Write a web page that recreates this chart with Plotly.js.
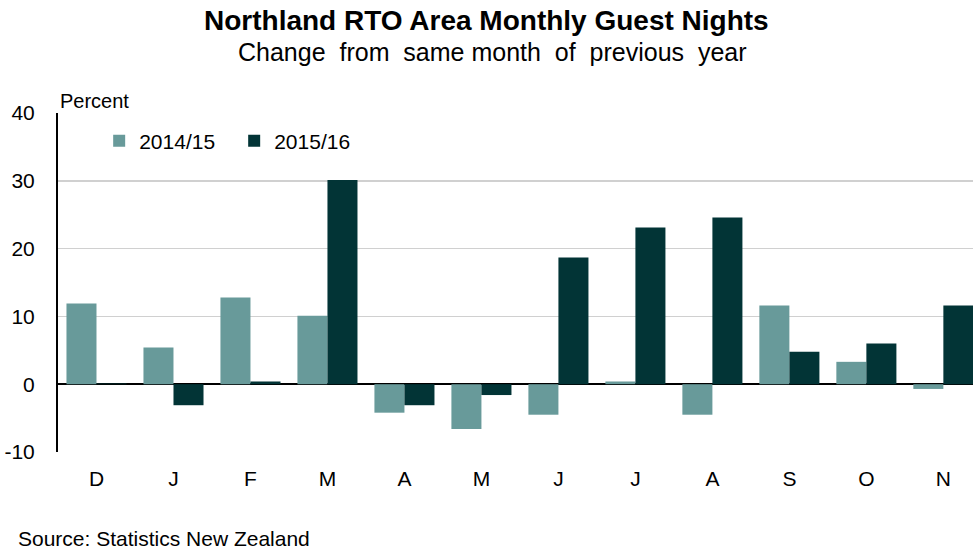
<!DOCTYPE html>
<html>
<head>
<meta charset="utf-8">
<script src="https://cdn.plot.ly/plotly-3.0.1.min.js"></script>
<style>
html,body{margin:0;padding:0;background:#fff;overflow:hidden;}
#chart{width:973px;height:552px;}
</style>
</head>
<body>
<div id="chart"></div>
<script>
const months = ["D","J","F","M","A","M ","J ","J  ","A ","S","O","N"];
const monthLabels = ["D","J","F","M","A","M","J","J","A","S","O","N"];
const series2014 = [11.9, 5.4, 12.8, 10.1, -4.2, -6.6, -4.5, 0.4, -4.5, 11.6, 3.3, -0.7];
const series2015 = [0.1, -3.1, 0.4, 30.1, -3.1, -1.6, 18.7, 23.1, 24.6, 4.8, 6.0, 11.6];
const seriesNames = ["2014/15", "2015/16"];
const yTicks = [-10, 0, 10, 20, 30, 40];
const yTickLabels = ["-10", "0", "10", "20", "30", "40"];

const idx = months.map((m, i) => i);
const FONT = "Liberation Sans, Arial, sans-serif";

const traces = [
  {type: "bar", name: seriesNames[0], x: idx, y: series2014,
   marker: {color: "#689a9a"}, hoverinfo: "y"},
  {type: "bar", name: seriesNames[1], x: idx, y: series2015,
   marker: {color: "#023436"}, hoverinfo: "y"}
];

const layout = {
  width: 973, height: 552,
  paper_bgcolor: "#fff", plot_bgcolor: "#fff",
  margin: {l: 58, r: 0, t: 113, b: 100},
  barmode: "group", bargap: 0.22, bargroupgap: 0,
  font: {family: FONT, color: "#000", size: 21},
  showlegend: true,
  legend: {orientation: "h", x: 0.045, y: 0.917, xanchor: "left", yanchor: "middle",
           bgcolor: "rgba(0,0,0,0)", font: {size: 21, family: FONT},
           entrywidth: 90, traceorder: "normal"},
  xaxis: {tickmode: "array", tickvals: idx, ticktext: monthLabels,
          range: [-0.5, 11.385], showgrid: false, zeroline: false,
          showline: false, ticks: "", ticklen: 0, tickfont: {size: 21},
          ticklabelstandoff: 12, fixedrange: true},
  yaxis: {range: [-10, 40], tickmode: "array", tickvals: yTicks, ticktext: yTickLabels,
          showgrid: true, gridcolor: "#d0d0d0", gridwidth: 1.5,
          zeroline: true, zerolinecolor: "#000", zerolinewidth: 2,
          showline: true, linecolor: "#000", linewidth: 2, ticks: "",
          tickfont: {size: 21}, ticklabelstandoff: 17, fixedrange: true},
  annotations: [
    {text: "<b>Northland RTO Area Monthly Guest Nights</b>", xref: "paper", yref: "paper",
     x: 0.468, y: 1, xanchor: "center", yanchor: "middle", showarrow: false,
     font: {size: 28, family: FONT, color: "#000"}, yshift: 93},
    {text: "Change  from  same month  of  previous  year", xref: "paper", yref: "paper",
     x: 0.475, y: 1, xanchor: "center", yanchor: "middle", showarrow: false,
     font: {size: 25, family: FONT, color: "#000"}, yshift: 61},
    {text: "Percent", xref: "paper", yref: "paper", x: 0, y: 1, xanchor: "left", yanchor: "middle",
     showarrow: false, font: {size: 20, family: FONT}, xshift: 0, yshift: 12},
    {text: "Source: Statistics New Zealand", xref: "paper", yref: "paper", x: 0, y: 0,
     xanchor: "left", yanchor: "middle", showarrow: false, font: {size: 21, family: FONT},
     xshift: -42, yshift: -86}
  ]
};

Plotly.newPlot("chart", traces, layout, {displayModeBar: false, staticPlot: true});
</script>
</body>
</html>
